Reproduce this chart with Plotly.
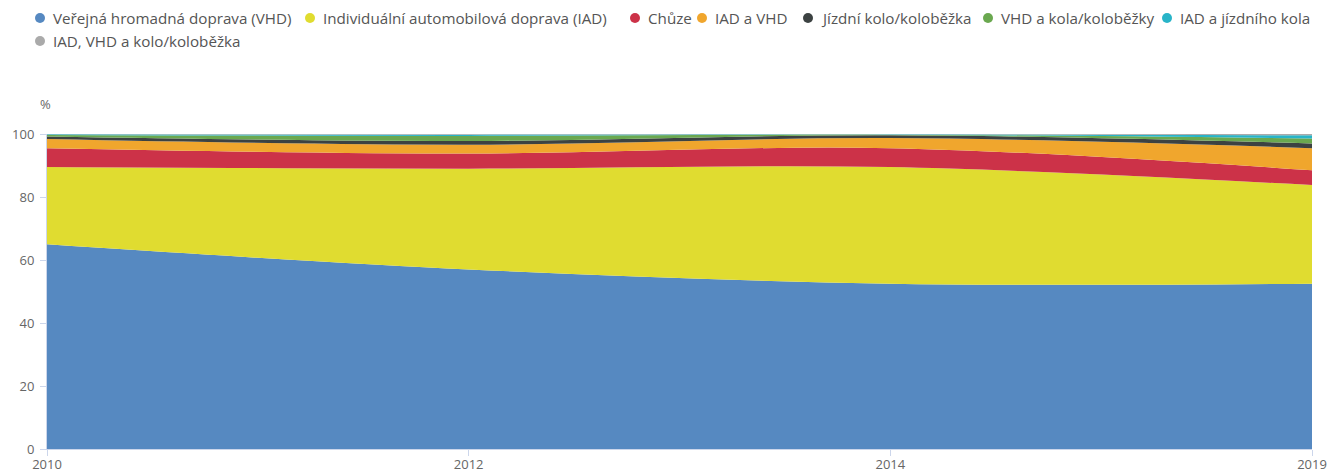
import plotly.graph_objects as go

years = ["2010", "2012", "2014", "2019"]
vhd = [65.0, 57.0, 52.5, 52.5]
iad = [24.5, 32.0, 37.0, 31.3]
chuze = [6.0, 4.8, 6.0, 4.7]
iad_vhd = [2.9, 2.8, 3.2, 7.0]
kolo = [0.8, 1.2, 0.9, 1.5]
vhd_kolo = [0.5, 1.6, 0.2, 1.6]
iad_kolo = [0.2, 0.4, 0.1, 1.0]
iad_vhd_kolo = [0.1, 0.2, 0.1, 0.4]

series_names = [
    "Veřejná hromadná doprava (VHD)",
    "Individuální automobilová doprava (IAD)",
    "Chůze",
    "IAD a VHD",
    "Jízdní kolo/koloběžka",
    "VHD a kola/koloběžky",
    "IAD a jízdního kola",
    "IAD, VHD a kolo/koloběžka",
]
series_values = [vhd, iad, chuze, iad_vhd, kolo, vhd_kolo, iad_kolo, iad_vhd_kolo]
colors = ["#5689C1", "#E0DC30", "#CC3248", "#F0A62D", "#3C4242",
          "#6AA84F", "#28B4C8", "#AAAAAA"]

OFF = 8  # default body margin of the html page
W, H = 1344 - OFF, 473 - OFF
# plot area in page pixel coordinates
L, R, T, B = 47, 1312, 134, 449

fig = go.Figure()
for name, vals, col in zip(series_names, series_values, colors):
    fig.add_trace(go.Scatter(
        x=years, y=vals, name=name, stackgroup="one", mode="lines",
        line=dict(width=0, shape="spline", color=col),
        fillcolor=col, showlegend=False,
    ))

def px_x(px):
    return (px - L) / (R - L)

def px_y(py):
    return (B - py) / (B - T)

# manual legend (circle + label), page pixel coordinates
legend_pos = [  # (circle x, text x, row y)
    (40, 51, 18), (310, 321, 18), (635, 646, 18), (702, 713, 18),
    (808, 819, 18), (988, 999, 18), (1167, 1178, 18), (40, 51, 41),
]
shapes = []
annotations = []
for (cx, tx, ry), name, col in zip(legend_pos, series_names, colors):
    shapes.append(dict(
        type="circle", xref="paper", yref="paper",
        xsizemode="pixel", ysizemode="pixel",
        xanchor=px_x(cx), yanchor=px_y(ry),
        x0=-5, x1=5, y0=-5, y1=5,
        fillcolor=col, line=dict(width=0),
    ))
    annotations.append(dict(
        xref="paper", yref="paper", x=px_x(tx), y=px_y(ry),
        xanchor="left", yanchor="middle", text=name, showarrow=False,
        font=dict(family="Open Sans", size=15.2, color="#555555"),
    ))
annotations.append(dict(
    xref="paper", yref="paper", x=px_x(45), y=px_y(104),
    xanchor="center", yanchor="middle", text="%", showarrow=False,
    font=dict(family="Open Sans", size=13, color="#666666"),
))

fig.update_layout(
    width=W, height=H, autosize=False,
    margin=dict(l=L - OFF, r=W - (R - OFF), t=T - OFF, b=H - (B - OFF), pad=0),
    paper_bgcolor="white", plot_bgcolor="white",
    shapes=shapes, annotations=annotations,
    xaxis=dict(
        type="category", range=[0, 3], showgrid=False, automargin=False,
        showline=True, linecolor="#ccd6eb", linewidth=1,
        ticks="outside", ticklen=6, tickcolor="#ccd6eb",
        ticklabelstandoff=-3,
        tickfont=dict(family="Open Sans", size=13, color="#666666"),
        zeroline=False,
    ),
    yaxis=dict(
        range=[0, 100], tickvals=[0, 20, 40, 60, 80, 100],
        showgrid=False, automargin=False,
        showline=True, linecolor="#ccd6eb", linewidth=1,
        ticks="outside", ticklen=6, tickcolor="#ccd6eb",
        ticklabelstandoff=3,
        tickfont=dict(family="Open Sans", size=13, color="#666666"),
        zeroline=False,
    ),
)

fig.write_html("out.html")
